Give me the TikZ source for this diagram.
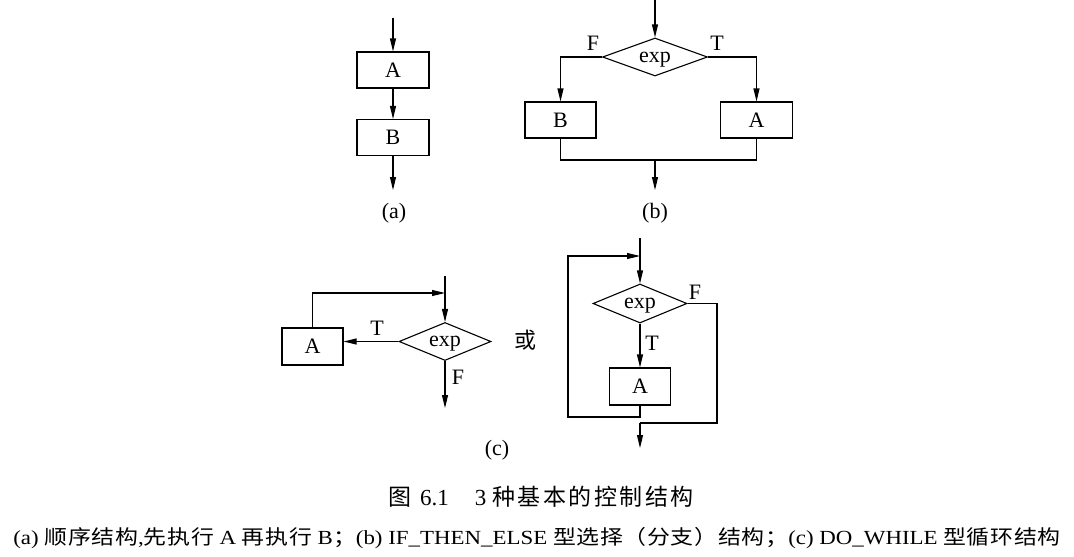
\documentclass[tikz,border=0pt]{standalone}
\usepackage{fontspec}
\setmainfont{Liberation Serif}
\newfontfamily\cjk{Noto Sans CJK SC}
\newfontfamily\cjkwide[LetterSpace=11]{Noto Sans CJK SC}
\newfontfamily\cjkcap[LetterSpace=3]{Noto Sans CJK SC}
\newcommand{\zh}[1]{{\cjk #1}}
\newcommand{\zc}[1]{{\cjkcap #1}}
\newcommand{\midtext}[1]{\raisebox{-5pt}[0pt][0pt]{#1}}
\usetikzlibrary{shapes.geometric,arrows.meta}
\begin{document}
\begin{tikzpicture}[x=1pt,y=-1pt,
  every node/.style={font=\fontsize{22}{26}\selectfont},
  flow/.style={line width=1.1pt},
  arr/.style={flow,-{Triangle[length=13pt,width=6pt]}},
  box/.style={draw,line width=1.1pt,rectangle,inner sep=0pt,minimum width=#1pt,minimum height=36pt},
  box/.default=72,
  cond/.style={draw,line width=1.1pt,diamond,inner sep=0pt,aspect=2.6,minimum width=#1pt,minimum height=38pt},
  lbl/.style={inner sep=0pt}]
\useasboundingbox (0,0) rectangle (1074,557);

% ---------- (a) sequence ----------
\coordinate (a0) at (393,18);
\node[box] (aA) at (393,70) {A};
\node[box] (aB) at (393,137.5) {B};
\coordinate (a1) at (393,190);
\draw[arr] (a0) -- (aA.north);
\draw[arr] (aA.south) -- (aB.north);
\draw[arr] (aB.south) -- (a1);
\node[lbl] (la) at (394,213) {(a)};

% ---------- (b) selection ----------
\coordinate (b0) at (655,0);
\node[cond=105] (bd) at (655,57) {\midtext{exp}};
\node[box=71] (bB) at (560.5,120) {B};
\node[box] (bA) at (756.5,120) {A};
\coordinate (bj) at (655,160);
\coordinate (b1) at (655,190);
\draw[arr] (b0) -- (bd.north);
\draw[arr] (bd.west) -| (bB.north);
\draw[arr] (bd.east) -| (bA.north);
\draw[flow] (bB.south) |- (bj) -| (bA.south);
\draw[arr] (bj) -- (b1);
\node[lbl] (bF) at (593,43) {F};
\node[lbl] (bT) at (717,43) {T};
\node[lbl] (lb) at (655,213) {(b)};

% ---------- (c) loop, first form ----------
\coordinate (c0) at (445,276);
\coordinate (cj) at (445,293);
\node[cond=92] (cd) at (445,341.5) {\midtext{exp}};
\node[box=61,minimum height=37pt] (cA) at (312.5,346.5) {A};
\coordinate (c1) at (445,408);
\draw[arr] (c0) -- (cd.north);
\draw[arr] (cA.north) |- (cj);
\draw[arr] (cd.west) -- (cd.west -| cA.east);
\draw[arr] (cd.south) -- (c1);
\node[lbl] (cT) at (377,328) {T};
\node[lbl] (cF) at (458,377) {F};
\node[lbl] (or) at (525,340) {\zh{或}};

% ---------- (c) loop, second form ----------
\coordinate (r0) at (640,238);
\coordinate (rj) at (640,256);
\node[cond=94,minimum height=39pt] (rd) at (640,303.5) {\midtext{exp}};
\node[box=61,minimum height=37pt] (rA) at (640,386.5) {A};
\coordinate (rb) at (640,417);
\coordinate (rl) at (568,417);
\coordinate (rr) at (717,303.5);
\coordinate (rq) at (640,423);
\coordinate (r1) at (640,448);
\draw[arr] (r0) -- (rd.north);
\draw[arr] (rA.south) -- (rb) -- (rl) |- (rj);
\draw[arr] (rd.south) -- (rA.north);
\draw[flow] (rd.east) -- (rr) |- (rq);
\draw[arr] (rq) -- (r1);
\node[lbl] (rT) at (652,343) {T};
\node[lbl] (rF) at (695,292) {F};
\node[lbl] (lc) at (497,450) {(c)};

% ---------- caption ----------
\node[lbl,font=\fontsize{23}{27}\selectfont] (cap1) at (541,497)
  {{\cjk 图}\hspace{9pt}6.1\hspace{26pt}3\hspace{6pt}{\cjkwide 种基本的控制结构}};
\node[lbl,font=\fontsize{20}{24}\selectfont] (cap2) at (537,538)
  {\scalebox{1.145}[1]{(a)\ \zc{顺序结构},\zc{先执行} A \zc{再执行} B\zc{；}(b) IF\_THEN\_ELSE \zc{型选择（分支）结构；}(c) DO\_WHILE \zc{型循环结构}}};
\end{tikzpicture}
\end{document}
